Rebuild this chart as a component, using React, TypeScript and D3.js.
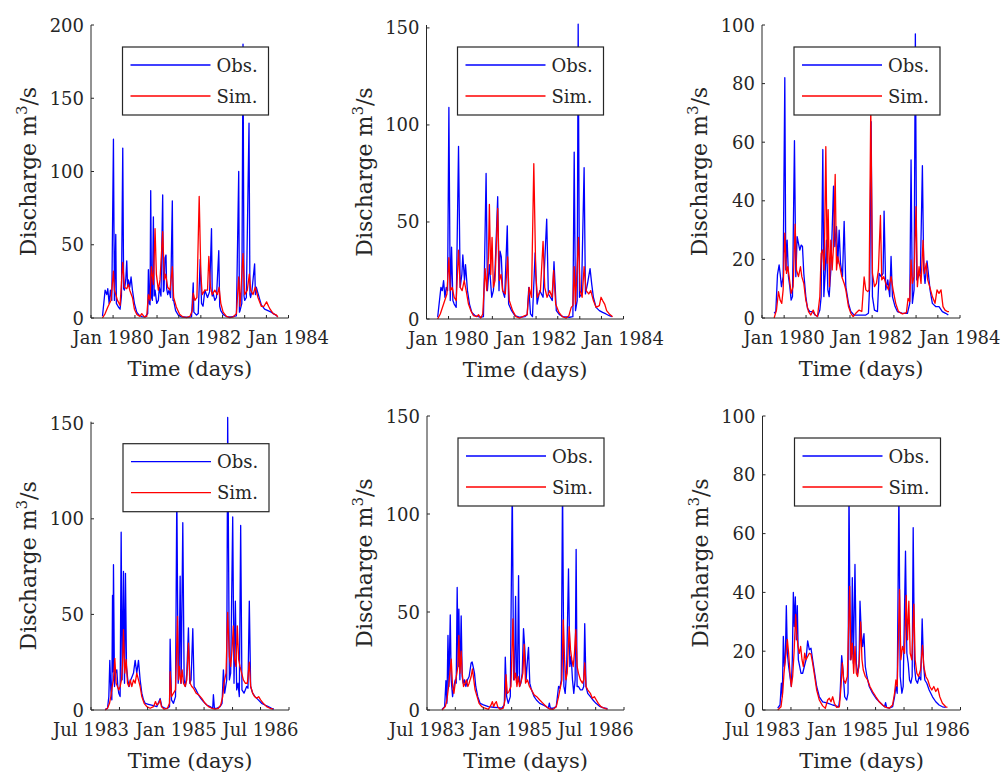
import React from 'react';
import * as d3 from 'd3';

type Pt = [number, number];

// ---- Data (decimal year, discharge m3/s) ----
const obsP1: Pt[] = [[1979.758,1.2],[1979.818,19],[1979.856,16],[1979.879,20],[1979.909,10],[1979.939,19],[1979.97,12],[1980.008,122],[1980.03,12],[1980.061,57],[1980.075,10],[1980.121,7.5],[1980.159,6],[1980.19,15],[1980.22,116],[1980.24,20],[1980.258,19],[1980.288,26],[1980.311,39],[1980.33,22],[1980.349,26],[1980.379,21],[1980.409,28],[1980.44,19],[1980.485,10],[1980.538,4],[1980.591,2],[1980.652,1],[1980.727,0.7],[1980.788,3],[1980.803,33],[1980.825,10],[1980.841,9],[1980.856,87],[1980.875,14],[1980.894,12],[1980.917,69],[1980.935,15],[1980.955,19],[1980.993,10],[1981.03,12],[1981.053,21],[1981.09,15],[1981.129,84],[1981.145,18],[1981.159,19],[1981.182,41],[1981.205,43],[1981.22,20],[1981.243,16],[1981.273,19],[1981.31,14],[1981.349,80],[1981.365,12],[1981.379,12],[1981.424,5],[1981.485,2],[1981.561,0.7],[1981.674,0.5],[1981.788,0.8],[1981.826,24],[1981.84,4],[1981.902,2],[1981.94,3],[1981.985,40],[1982.015,10],[1982.05,8],[1982.091,19],[1982.152,14],[1982.2,18],[1982.243,61],[1982.26,15],[1982.28,17],[1982.318,12],[1982.356,14],[1982.409,46],[1982.43,8],[1982.455,5],[1982.508,2.5],[1982.583,1],[1982.697,0.7],[1982.811,1.5],[1982.864,100],[1982.88,4],[1982.894,5],[1982.935,10],[1982.962,187],[1982.985,15],[1983.0,12],[1983.038,14],[1983.099,133],[1983.12,16],[1983.136,14],[1983.167,19],[1983.227,37],[1983.245,16],[1983.265,21],[1983.303,17],[1983.379,9],[1983.455,6],[1983.53,5],[1983.606,4],[1983.682,2.5],[1983.742,1.2]];
const simP1: Pt[] = [[1979.758,0],[1979.818,3],[1979.88,7.5],[1979.95,12],[1980.008,32],[1980.03,19],[1980.061,16],[1980.1,12],[1980.159,8.6],[1980.22,38],[1980.258,21],[1980.311,20],[1980.349,23],[1980.379,19],[1980.44,14],[1980.485,6],[1980.538,2.5],[1980.61,1.1],[1980.652,3],[1980.712,0.7],[1980.765,1.1],[1980.803,16],[1980.841,12],[1980.87,35],[1980.917,23],[1980.955,61],[1980.985,30],[1981.03,19],[1981.068,26],[1981.129,59],[1981.167,26],[1981.197,30],[1981.243,21],[1981.296,19],[1981.349,35],[1981.379,14],[1981.44,7.5],[1981.515,2.5],[1981.591,0.7],[1981.674,0.2],[1981.75,1.1],[1981.803,5],[1981.826,17],[1981.864,12],[1981.91,14],[1981.962,83],[1982.0,30],[1982.03,16],[1982.091,19],[1982.152,19],[1982.182,42],[1982.22,21],[1982.258,16],[1982.318,19],[1982.379,16],[1982.416,21],[1982.455,10],[1982.508,4],[1982.583,1.1],[1982.66,0.2],[1982.735,0.7],[1982.811,3],[1982.864,28],[1982.894,8],[1982.962,44],[1983.0,16],[1983.06,19],[1983.106,30],[1983.136,19],[1983.19,16],[1983.243,21],[1983.303,14],[1983.379,8],[1983.44,8],[1983.5,11],[1983.545,8],[1983.58,6],[1983.65,3],[1983.727,2],[1983.758,0.5]];

const obsP2: Pt[] = [[1979.751,0.9],[1979.826,16.3],[1979.857,14.6],[1979.887,19.8],[1979.917,11.2],[1979.948,16.3],[1979.978,14.6],[1980.008,109],[1980.039,9.5],[1980.069,37],[1980.099,9.5],[1980.129,7.7],[1980.175,6],[1980.228,89],[1980.266,16.3],[1980.304,23],[1980.326,33],[1980.364,19.8],[1980.387,28],[1980.432,14.6],[1980.478,7.7],[1980.531,3.4],[1980.607,1.7],[1980.72,0.9],[1980.796,1.2],[1980.819,25],[1980.857,75],[1980.887,14.6],[1980.932,28],[1980.985,11.2],[1981.023,14.6],[1981.061,25],[1981.122,63],[1981.152,14.6],[1981.175,35],[1981.205,32],[1981.235,14.6],[1981.281,11.2],[1981.341,48],[1981.372,7.7],[1981.44,4.3],[1981.516,1.7],[1981.629,0.9],[1981.743,1.2],[1981.796,2.2],[1981.834,16.3],[1981.872,2.6],[1981.917,1.2],[1981.978,34],[1982.023,7.7],[1982.084,14.6],[1982.16,11.2],[1982.243,51.5],[1982.281,12.9],[1982.326,11.2],[1982.372,9.5],[1982.41,29.5],[1982.463,4.3],[1982.539,2.2],[1982.614,1.2],[1982.766,0.9],[1982.842,1.2],[1982.872,86],[1982.902,4.3],[1982.94,9.5],[1982.963,152],[1982.993,11.2],[1983.039,12.9],[1983.099,78],[1983.129,12.9],[1983.175,18],[1983.235,26],[1983.273,18],[1983.311,11.2],[1983.372,6],[1983.448,4.3],[1983.523,3.4],[1983.599,2.6],[1983.675,1.7],[1983.735,1.2]];
const simP2: Pt[] = [[1979.751,0],[1979.811,2.6],[1979.887,7.7],[1979.963,12.9],[1980.008,31.6],[1980.039,14.6],[1980.084,16.3],[1980.129,11.2],[1980.175,9.5],[1980.228,35.5],[1980.266,16.3],[1980.311,14.6],[1980.357,19.8],[1980.402,14.6],[1980.455,7.7],[1980.508,4.3],[1980.569,1.7],[1980.645,1.2],[1980.683,2.2],[1980.736,0.5],[1980.781,2.6],[1980.834,26],[1980.872,14.6],[1980.91,32],[1980.932,59],[1980.963,23],[1980.993,42],[1981.023,16.3],[1981.061,19.8],[1981.122,57],[1981.16,19.8],[1981.198,23],[1981.235,14.6],[1981.296,12.9],[1981.349,32],[1981.387,9.5],[1981.463,4.3],[1981.539,1.2],[1981.629,0.5],[1981.743,1.7],[1981.796,2.2],[1981.842,16.3],[1981.895,11.2],[1981.948,80],[1981.993,23],[1982.031,11.2],[1982.099,14.6],[1982.16,40],[1982.198,16.3],[1982.251,11.2],[1982.311,14.6],[1982.364,11.2],[1982.402,25],[1982.448,7.7],[1982.523,3.4],[1982.599,1.2],[1982.69,0.5],[1982.751,1.7],[1982.804,6],[1982.842,6.9],[1982.872,27],[1982.902,7.7],[1982.97,42],[1983.008,14.6],[1983.054,11.2],[1983.099,27],[1983.145,14.6],[1983.205,12.9],[1983.251,14.6],[1983.311,9.5],[1983.372,6],[1983.448,6.9],[1983.486,11.2],[1983.523,9.5],[1983.569,7.7],[1983.614,4.3],[1983.675,2.6],[1983.751,1.2]];

const obsP3: Pt[] = [[1979.772,1.6],[1979.81,2.2],[1979.848,14.7],[1979.886,18.1],[1979.909,15.2],[1979.939,10.7],[1979.977,14.1],[1980.015,82],[1980.037,16.4],[1980.068,26.6],[1980.098,14.1],[1980.128,10.7],[1980.159,6.1],[1980.189,7.3],[1980.234,60.5],[1980.265,14.1],[1980.295,27.8],[1980.325,25.5],[1980.356,23.2],[1980.386,24.9],[1980.416,24.4],[1980.446,15.2],[1980.492,7.3],[1980.53,3.3],[1980.583,2.2],[1980.643,2.2],[1980.704,1],[1980.757,0.5],[1980.81,2.7],[1980.84,7.3],[1980.878,57.5],[1980.901,7.3],[1980.931,15.2],[1980.962,26.6],[1980.992,9.6],[1981.022,7.3],[1981.06,16.4],[1981.09,30],[1981.121,45],[1981.151,24.4],[1981.189,31.2],[1981.219,18.7],[1981.249,30],[1981.28,18.7],[1981.325,14.1],[1981.363,33],[1981.401,10.7],[1981.462,5],[1981.515,2.2],[1981.59,1],[1981.704,1],[1981.856,1],[1981.916,1.6],[1981.946,11.8],[1981.977,67],[1982.007,7.3],[1982.053,2.7],[1982.121,2.2],[1982.159,15.2],[1982.204,14.1],[1982.249,15.2],[1982.272,36.5],[1982.31,9.6],[1982.356,13],[1982.401,7.3],[1982.431,21],[1982.462,7.3],[1982.522,3.9],[1982.575,2.2],[1982.689,1.6],[1982.803,1.6],[1982.856,5],[1982.886,54],[1982.916,5],[1982.954,9.6],[1982.984,97],[1983.015,13],[1983.053,14.1],[1983.098,15.2],[1983.144,52],[1983.174,16.4],[1983.204,11.8],[1983.249,19.5],[1983.28,15.2],[1983.318,9.6],[1983.371,5],[1983.446,3.9],[1983.522,3.9],[1983.598,2.2],[1983.674,1.6],[1983.734,1]];
const simP3: Pt[] = [[1979.772,0],[1979.825,2.7],[1979.871,9],[1979.909,6.1],[1979.946,5],[1979.977,9.6],[1980.015,29],[1980.053,15.2],[1980.083,17.5],[1980.113,14.1],[1980.159,8.4],[1980.204,10.7],[1980.249,32],[1980.28,16.4],[1980.325,14.1],[1980.371,17.5],[1980.401,14.1],[1980.446,11.8],[1980.492,6.1],[1980.553,2.2],[1980.606,1],[1980.659,2.7],[1980.704,1],[1980.757,0.5],[1980.81,7.3],[1980.84,22],[1980.871,23.2],[1980.909,16.4],[1980.946,58.5],[1980.977,18.7],[1980.999,37],[1981.03,10.7],[1981.06,26.6],[1981.09,16.4],[1981.121,24.4],[1981.159,49],[1981.189,16.4],[1981.219,20.9],[1981.265,17.5],[1981.31,14.1],[1981.363,11.8],[1981.401,9.6],[1981.462,3.9],[1981.515,1.6],[1981.568,0.5],[1981.628,1.6],[1981.704,2.7],[1981.765,2.2],[1981.818,14],[1981.856,9.6],[1981.901,9],[1981.931,9.6],[1981.969,72],[1982.007,15.2],[1982.053,10.7],[1982.098,11.8],[1982.143,16.4],[1982.189,35],[1982.219,13],[1982.265,14.1],[1982.31,11.8],[1982.371,9.6],[1982.431,14.1],[1982.477,9.6],[1982.537,5],[1982.598,2.2],[1982.689,1.4],[1982.78,1.8],[1982.818,6.7],[1982.856,5.6],[1982.886,19.8],[1982.916,11.8],[1982.954,14.1],[1982.999,38],[1983.03,10.7],[1983.068,17.5],[1983.113,11.8],[1983.159,26.5],[1983.189,15.2],[1983.234,18.7],[1983.265,13],[1983.31,10.7],[1983.371,7.3],[1983.431,5],[1983.477,9.6],[1983.522,8.4],[1983.568,9.6],[1983.613,3.9],[1983.659,2.7],[1983.712,2.2],[1983.749,2.2]];

const obsP4: Pt[] = [[1983.747,0.4],[1983.788,0.9],[1983.812,7],[1983.829,26],[1983.847,10.5],[1983.865,5.3],[1983.877,60],[1983.886,20],[1983.894,76],[1983.912,12.3],[1983.93,19.3],[1983.953,21],[1983.971,12.3],[1983.988,8.8],[1984.012,7],[1984.03,93],[1984.047,15.8],[1984.071,72.5],[1984.089,14],[1984.106,71.5],[1984.124,22.8],[1984.147,15.8],[1984.171,12.3],[1984.2,15.8],[1984.224,17.5],[1984.248,19.3],[1984.277,26],[1984.306,19.3],[1984.336,26],[1984.365,15.8],[1984.395,8.8],[1984.424,5.3],[1984.454,3.5],[1984.513,3],[1984.601,2.3],[1984.66,1.75],[1984.719,6],[1984.748,1.75],[1984.807,0.9],[1984.848,0.9],[1984.884,1.75],[1984.895,37],[1984.919,5.3],[1984.954,3.5],[1984.99,7],[1985.013,115],[1985.037,14],[1985.054,19.3],[1985.072,70],[1985.09,14],[1985.119,98],[1985.143,15.8],[1985.166,12.3],[1985.19,19.3],[1985.219,43],[1985.243,14],[1985.266,15.8],[1985.296,42.5],[1985.319,12.3],[1985.355,10.5],[1985.396,7.9],[1985.437,6.1],[1985.484,4.4],[1985.543,2.6],[1985.602,1.75],[1985.649,0.9],[1985.661,8],[1985.679,0.9],[1985.72,0.9],[1985.779,1.75],[1985.814,3.5],[1985.838,21],[1985.861,8.8],[1985.897,15.8],[1985.914,153],[1985.944,15.8],[1985.967,19.3],[1986.003,101],[1986.026,14],[1986.05,57],[1986.073,10.5],[1986.097,14],[1986.12,7],[1986.144,96.5],[1986.167,10.5],[1986.203,8.8],[1986.25,12.3],[1986.273,11.4],[1986.297,57],[1986.321,12.3],[1986.356,8.8],[1986.397,7],[1986.456,5.3],[1986.515,3.5],[1986.574,2.6],[1986.633,1.75],[1986.692,0.9],[1986.733,0.5]];
const simP4: Pt[] = [[1983.747,0],[1983.788,0.9],[1983.824,3.5],[1983.847,7],[1983.871,12.3],[1983.894,15.8],[1983.918,27],[1983.941,14],[1983.965,12.3],[1983.988,10.5],[1984.012,12.3],[1984.036,15.8],[1984.053,22.8],[1984.071,42],[1984.094,19.3],[1984.118,26.3],[1984.142,14],[1984.165,12.3],[1984.189,15.8],[1984.218,12.3],[1984.248,15.8],[1984.277,14],[1984.306,19.3],[1984.336,15.8],[1984.365,12.3],[1984.395,7],[1984.436,3.5],[1984.483,1.75],[1984.542,0.9],[1984.601,1.75],[1984.636,4.4],[1984.66,2.6],[1984.695,3.5],[1984.719,5.3],[1984.742,1.75],[1984.789,0.4],[1984.848,0.9],[1984.884,3.5],[1984.895,20],[1984.919,7],[1984.954,8.8],[1984.99,10.5],[1985.025,49],[1985.043,15.8],[1985.06,22.8],[1985.084,14],[1985.107,21],[1985.131,14],[1985.16,12.3],[1985.19,15.8],[1985.219,35],[1985.249,14],[1985.278,12.3],[1985.308,11.4],[1985.355,8.8],[1985.402,7.9],[1985.455,6.1],[1985.514,3.5],[1985.573,1.75],[1985.632,0.9],[1985.69,0.4],[1985.749,0.9],[1985.79,2.6],[1985.826,7],[1985.849,14],[1985.885,19.3],[1985.914,51],[1985.944,28],[1985.967,22.8],[1985.991,31.6],[1986.014,44],[1986.038,26.3],[1986.061,22.8],[1986.085,44],[1986.108,26.3],[1986.132,22.8],[1986.162,19.3],[1986.191,15.8],[1986.226,14],[1986.262,14],[1986.297,25],[1986.321,12.3],[1986.356,8.8],[1986.391,7],[1986.427,6.1],[1986.462,7],[1986.497,5.3],[1986.544,3.5],[1986.603,1.75],[1986.662,0.9],[1986.721,0.4]];

const obsP5: Pt[] = [[1983.763,0.3],[1983.81,1.7],[1983.833,15],[1983.851,3.4],[1983.869,38],[1983.886,12],[1983.91,48.5],[1983.927,15.4],[1983.951,6.8],[1983.975,12],[1983.998,15.4],[1984.016,13.7],[1984.033,62.5],[1984.051,22.2],[1984.063,51.5],[1984.081,15.4],[1984.104,48],[1984.122,17.1],[1984.139,13.7],[1984.163,15.4],[1984.187,12],[1984.216,15.4],[1984.245,17.1],[1984.281,24],[1984.298,24.5],[1984.316,22.2],[1984.34,18.8],[1984.363,12],[1984.399,6.8],[1984.44,3.4],[1984.499,2.6],[1984.587,1.7],[1984.675,1.4],[1984.764,1.2],[1984.823,0.9],[1984.87,2.6],[1984.887,27],[1984.911,6.8],[1984.94,3.4],[1984.976,6.8],[1985.011,115],[1985.035,15.4],[1985.052,18.8],[1985.07,58],[1985.088,13.7],[1985.105,18.8],[1985.123,68.5],[1985.141,12],[1985.164,13.7],[1985.188,18.8],[1985.211,41.5],[1985.235,30.8],[1985.258,15.4],[1985.282,25.7],[1985.3,32],[1985.323,13.7],[1985.353,10.3],[1985.4,6.8],[1985.441,5.1],[1985.5,3.4],[1985.559,2.6],[1985.618,1.7],[1985.653,0.9],[1985.671,3.5],[1985.688,0.9],[1985.735,0.9],[1985.794,1.7],[1985.835,12],[1985.859,11.1],[1985.883,15.4],[1985.906,115],[1985.93,12],[1985.953,8.5],[1985.977,18.8],[1986.012,72],[1986.036,22.2],[1986.059,27.4],[1986.083,15.4],[1986.106,8.5],[1986.13,15.4],[1986.148,82],[1986.165,12],[1986.189,12],[1986.224,10.3],[1986.26,10.3],[1986.283,12],[1986.301,44],[1986.324,12],[1986.354,8.5],[1986.401,6.8],[1986.448,5.1],[1986.501,3.4],[1986.56,2],[1986.619,1.2],[1986.707,0.7]];
const simP5: Pt[] = [[1983.763,0],[1983.821,1.7],[1983.851,5.1],[1983.88,12],[1983.904,18.8],[1983.927,26],[1983.951,12],[1983.975,8.5],[1983.998,13.7],[1984.028,18.8],[1984.045,22.2],[1984.063,38],[1984.081,18.8],[1984.104,30],[1984.122,18.8],[1984.145,12],[1984.175,13.7],[1984.198,15.4],[1984.222,12],[1984.245,13.7],[1984.281,17.1],[1984.304,21],[1984.328,15.4],[1984.351,10.3],[1984.387,6.8],[1984.422,3.4],[1984.469,1.7],[1984.528,0.9],[1984.587,0.3],[1984.634,2.6],[1984.658,4.3],[1984.681,1.7],[1984.705,3.4],[1984.728,4.3],[1984.752,1.7],[1984.793,0.3],[1984.852,0.9],[1984.882,5.1],[1984.899,18],[1984.923,8.5],[1984.952,9.4],[1984.988,12],[1985.023,46.5],[1985.046,15.4],[1985.07,18.8],[1985.094,12],[1985.117,17.1],[1985.141,12],[1985.176,15.4],[1985.2,18.8],[1985.223,33.5],[1985.247,13.7],[1985.282,15.4],[1985.317,12],[1985.353,10.3],[1985.4,7.7],[1985.447,6.8],[1985.5,5.1],[1985.559,3.4],[1985.618,1.7],[1985.677,0.5],[1985.735,0.3],[1985.794,1.7],[1985.835,6.8],[1985.871,12],[1985.894,15.4],[1985.918,46],[1985.942,25.7],[1985.965,15.4],[1985.989,18.8],[1986.024,42.5],[1986.048,30.8],[1986.071,25.7],[1986.095,22.2],[1986.118,29.1],[1986.142,41],[1986.165,22.2],[1986.189,18.8],[1986.224,15.4],[1986.26,13.7],[1986.283,15.4],[1986.301,24],[1986.324,12],[1986.354,10.3],[1986.401,8.5],[1986.436,6],[1986.472,6.8],[1986.507,5.1],[1986.542,3.4],[1986.589,1.7],[1986.648,0.9],[1986.707,0.3]];

const obsP6: Pt[] = [[1983.765,0.6],[1983.806,1.7],[1983.83,9.1],[1983.847,4.5],[1983.865,25],[1983.883,14.8],[1983.9,17.1],[1983.918,35.5],[1983.936,19.3],[1983.959,14.8],[1983.983,11.4],[1984.006,8],[1984.024,17.1],[1984.042,40],[1984.059,28.4],[1984.077,38.5],[1984.095,23.9],[1984.112,35.5],[1984.13,17.1],[1984.154,14.8],[1984.177,12.5],[1984.207,12.5],[1984.236,14.8],[1984.266,17.1],[1984.295,23.5],[1984.324,20.5],[1984.354,21],[1984.383,17.1],[1984.419,12.5],[1984.454,8],[1984.501,4.5],[1984.56,2.8],[1984.648,2.3],[1984.737,1.7],[1984.796,1.4],[1984.843,1.1],[1984.866,4.5],[1984.896,18.5],[1984.919,13.6],[1984.949,4.5],[1984.984,3.4],[1985.008,5.7],[1985.025,75],[1985.049,17.1],[1985.067,18.2],[1985.084,45],[1985.102,15.9],[1985.131,49.5],[1985.155,15.9],[1985.178,12.5],[1985.202,14.8],[1985.22,37],[1985.243,26.2],[1985.267,21.6],[1985.29,26],[1985.314,14.8],[1985.343,11.4],[1985.384,8],[1985.443,5.7],[1985.502,4],[1985.561,2.8],[1985.62,1.7],[1985.655,1.1],[1985.673,2.5],[1985.691,0.9],[1985.738,0.6],[1985.797,1.1],[1985.832,4.5],[1985.856,8],[1985.879,5.7],[1985.909,75],[1985.932,11.4],[1985.962,5.7],[1985.985,8],[1986.026,54],[1986.05,19.3],[1986.074,15.9],[1986.097,10.2],[1986.121,9.1],[1986.144,11.4],[1986.162,62],[1986.185,14.8],[1986.209,10.2],[1986.238,9.1],[1986.268,11.4],[1986.297,10.2],[1986.321,31],[1986.345,15.9],[1986.368,10.2],[1986.403,9.1],[1986.445,6.8],[1986.504,4.5],[1986.562,2.8],[1986.621,1.7],[1986.68,1.1],[1986.739,0.9]];
const simP6: Pt[] = [[1983.765,0],[1983.824,1.1],[1983.853,5.7],[1983.877,12.5],[1983.9,17.1],[1983.936,24],[1983.959,19.3],[1983.983,12.5],[1984.006,8],[1984.03,11.4],[1984.054,19.3],[1984.083,32.5],[1984.101,26.2],[1984.124,21.6],[1984.148,19.3],[1984.171,21.6],[1984.195,17.1],[1984.218,14.8],[1984.242,19.3],[1984.266,17.1],[1984.295,18.2],[1984.324,19.3],[1984.354,19],[1984.383,15.9],[1984.419,11.4],[1984.454,6.8],[1984.501,3.4],[1984.56,1.4],[1984.607,0.6],[1984.648,3.4],[1984.678,4],[1984.707,2.8],[1984.737,4.5],[1984.766,2.3],[1984.807,0.9],[1984.855,1.1],[1984.884,8],[1984.907,16],[1984.931,10.2],[1984.961,9.1],[1984.996,11.4],[1985.037,42],[1985.061,17.1],[1985.084,22.7],[1985.108,12.5],[1985.131,21.6],[1985.155,12.5],[1985.178,11.4],[1985.208,17.1],[1985.231,30],[1985.255,17.1],[1985.278,13.6],[1985.314,11.4],[1985.355,10.2],[1985.396,8],[1985.443,6.3],[1985.502,4.5],[1985.561,2.8],[1985.62,1.7],[1985.679,0.9],[1985.738,0.6],[1985.797,1.7],[1985.832,5.7],[1985.856,10.2],[1985.879,8],[1985.92,41],[1985.944,17.1],[1985.973,21.6],[1986.009,19.3],[1986.038,39],[1986.062,23.9],[1986.085,37],[1986.109,19.3],[1986.138,17.1],[1986.174,36],[1986.197,17.1],[1986.227,12.5],[1986.256,11.4],[1986.291,13.6],[1986.327,22],[1986.35,14.8],[1986.386,11.4],[1986.421,10.2],[1986.456,8],[1986.492,6.8],[1986.527,8],[1986.562,6.3],[1986.598,7.4],[1986.633,4.5],[1986.68,2.3],[1986.739,1.1],[1986.769,0.9]];

// Axes ranges and tick labels
const topXDomain = ['Jul 1979', 'Jan 1984'];
const bottomXDomain = ['Jul 1983', 'Jan 1987'];
const topXLabels = ['Jan 1980', 'Jan 1982', 'Jan 1984'];
const bottomXLabels = ['Jul 1983', 'Jan 1985', 'Jul 1986'];
const yTicks200 = [0, 50, 100, 150, 200];
const yTicks150 = [0, 50, 100, 150];
const yTicks100 = [0, 20, 40, 60, 80, 100];
const legendLabels = ['Obs.', 'Sim.'];
const xLabel = 'Time (days)';

const parseMY = d3.timeParse('%b %Y');
const toDate = (y: number) => {
  const yr = Math.floor(y);
  const a = new Date(yr, 0, 1).getTime();
  const b = new Date(yr + 1, 0, 1).getTime();
  return new Date(a + (y - yr) * (b - a));
};

const FONT = 'DejaVu Serif';
const INK = '#262626';
const FS = 18;
const FS_XLABEL = 21;
const FS_YLABEL = 22;

interface PanelCfg {
  left: number; right: number; top: number; bottom: number; yTop: number;
  yMax: number; yTicks: number[]; xDomain: string[]; xLabels: string[];
  obs: Pt[]; sim: Pt[];
}

const panels: PanelCfg[] = [
  { left: 91, right: 288.5, top: 25, bottom: 318, yTop: 25, yMax: 200, yTicks: yTicks200, xDomain: topXDomain, xLabels: topXLabels, obs: obsP1, sim: simP1 },
  { left: 426.5, right: 623.5, top: 25, bottom: 319, yTop: 25, yMax: 151.5, yTicks: yTicks150, xDomain: topXDomain, xLabels: topXLabels, obs: obsP2, sim: simP2 },
  { left: 762, right: 960, top: 25, bottom: 318, yTop: 25, yMax: 100, yTicks: yTicks100, xDomain: topXDomain, xLabels: topXLabels, obs: obsP3, sim: simP3 },
  { left: 91, right: 289, top: 421.7, bottom: 710, yTop: 421.7, yMax: 150.8, yTicks: yTicks150, xDomain: bottomXDomain, xLabels: bottomXLabels, obs: obsP4, sim: simP4 },
  { left: 427, right: 624, top: 416, bottom: 710, yTop: 416, yMax: 150, yTicks: yTicks150, xDomain: bottomXDomain, xLabels: bottomXLabels, obs: obsP5, sim: simP5 },
  { left: 762.5, right: 960.5, top: 416, bottom: 710, yTop: 416, yMax: 100, yTicks: yTicks100, xDomain: bottomXDomain, xLabels: bottomXLabels, obs: obsP6, sim: simP6 },
];

function Panel({ cfg }: { cfg: PanelCfg }) {
  const d0 = parseMY(cfg.xDomain[0]) as Date;
  const d1 = parseMY(cfg.xDomain[1]) as Date;
  const x = d3.scaleTime().domain([d0, d1]).range([cfg.left, cfg.right]);
  const y = d3.scaleLinear().domain([0, cfg.yMax]).range([cfg.bottom, cfg.yTop]);
  const line = d3.line<Pt>().x(d => x(toDate(d[0]))).y(d => y(d[1]));
  const xTicks = d3.timeMonth.every(6)!.range(d0, d3.timeDay.offset(d1, 1));
  const cx = (cfg.left + cfg.right) / 2;
  const cy = (cfg.top + cfg.bottom) / 2;
  const lw = 146, lh = 68;
  const lx = cfg.right - 20 - lw;
  const ly = cfg.top + 22;
  return (
    <g>
      <path d={line(cfg.obs) || ''} fill="none" stroke="#0000ff" strokeWidth={1.3} strokeLinejoin="round" />
      <path d={line(cfg.sim) || ''} fill="none" stroke="#ff0000" strokeWidth={1.3} strokeLinejoin="round" />
      {/* axes */}
      <line x1={cfg.left} x2={cfg.left} y1={cfg.top} y2={cfg.bottom} stroke={INK} strokeWidth={1} />
      <line x1={cfg.left} x2={cfg.right} y1={cfg.bottom} y2={cfg.bottom} stroke={INK} strokeWidth={1} />
      {cfg.yTicks.map(t => (
        <g key={'y' + t}>
          <line x1={cfg.left} x2={cfg.left + 3} y1={y(t)} y2={y(t)} stroke={INK} />
          <text x={cfg.left - 7} y={y(t)} textAnchor="end" dominantBaseline="central" fontFamily={FONT} fontSize={FS} fill={INK}>{t}</text>
        </g>
      ))}
      {xTicks.map((t, i) => (
        <line key={'x' + i} x1={x(t)} x2={x(t)} y1={cfg.bottom} y2={cfg.bottom - 3} stroke={INK} />
      ))}
      {cfg.xLabels.map(l => (
        <text key={l} x={x(parseMY(l) as Date)} y={cfg.bottom + 26} textAnchor="middle" fontFamily={FONT} fontSize={FS} fill={INK}>{l}</text>
      ))}
      <text x={cx} y={cfg.bottom + 58} textAnchor="middle" fontFamily={FONT} fontSize={FS_XLABEL} fill={INK}>{xLabel}</text>
      <text transform={`translate(${cfg.left - 55},${cy}) rotate(-90)`} textAnchor="middle" fontFamily={FONT} fontSize={FS_YLABEL} fill={INK}>
        Discharge m<tspan dy={-9} fontSize={15}>3</tspan><tspan dy={9}>/s</tspan>
      </text>
      {/* legend */}
      <rect x={lx} y={ly} width={lw} height={lh} fill="#fff" stroke={INK} strokeWidth={1.2} />
      {legendLabels.map((l, i) => (
        <g key={l}>
          <line x1={lx + 8} x2={lx + 88} y1={ly + 18 + i * 31} y2={ly + 18 + i * 31} stroke={i === 0 ? '#0000ff' : '#ff0000'} strokeWidth={1.3} />
          <text x={lx + 94} y={ly + 18 + i * 31} dominantBaseline="central" fontFamily={FONT} fontSize={FS} fill={INK}>{l}</text>
        </g>
      ))}
    </g>
  );
}

export default function App() {
  return (
    <svg width={1003} height={776} style={{ position: 'absolute', left: 0, top: 0, background: '#fff' }}>
      <rect width={1003} height={776} fill="#fff" />
      {panels.map((p, i) => <Panel key={i} cfg={p} />)}
    </svg>
  );
}
